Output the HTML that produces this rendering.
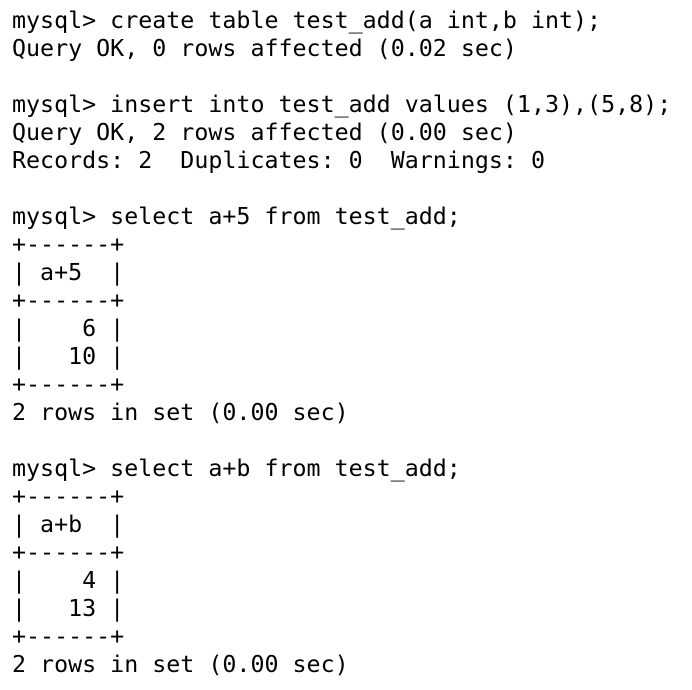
<!DOCTYPE html>
<html><head><meta charset="utf-8"><style>
html,body{margin:0;padding:0;background:#fff;width:692px;height:690px;overflow:hidden}
pre{margin:0;padding:7px 0 0 12px;font-family:"DejaVu Sans Mono","Liberation Mono",monospace;font-size:23.3px;line-height:28px;color:#000}
</style></head><body><pre>mysql&gt; create table test_add(a int,b int);
Query OK, 0 rows affected (0.02 sec)

mysql&gt; insert into test_add values (1,3),(5,8);
Query OK, 2 rows affected (0.00 sec)
Records: 2  Duplicates: 0  Warnings: 0

mysql&gt; select a+5 from test_add;
+------+
| a+5  |
+------+
|    6 |
|   10 |
+------+
2 rows in set (0.00 sec)

mysql&gt; select a+b from test_add;
+------+
| a+b  |
+------+
|    4 |
|   13 |
+------+
2 rows in set (0.00 sec)</pre></body></html>
